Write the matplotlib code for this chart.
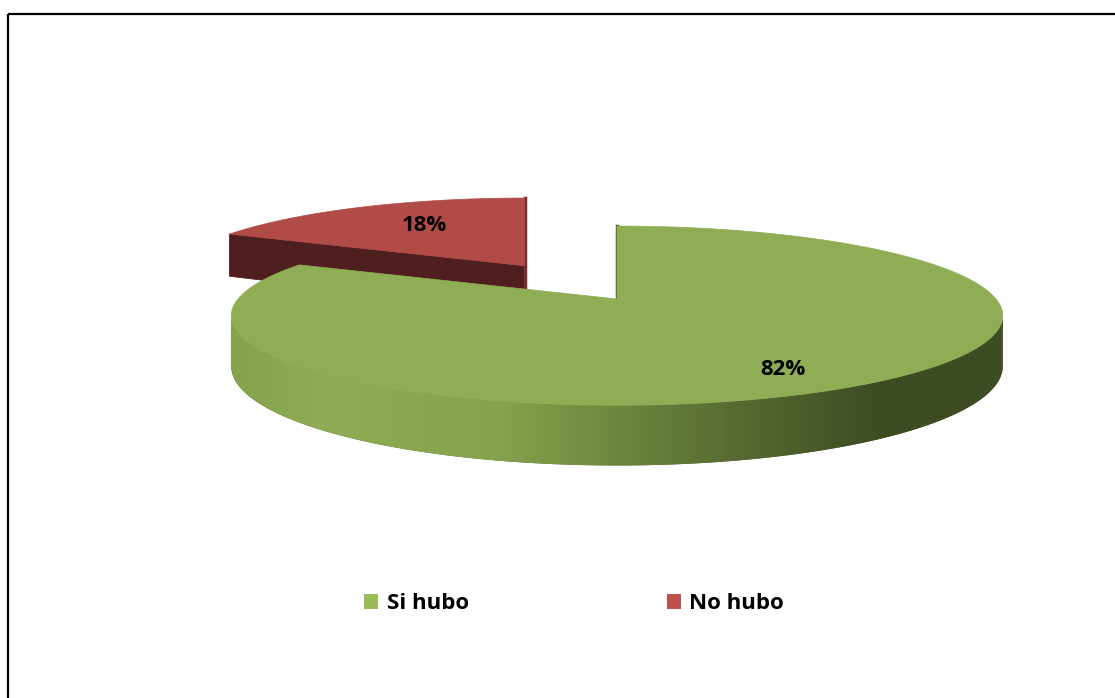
import numpy as np
import matplotlib.pyplot as plt
from matplotlib.patches import Polygon, Rectangle, Patch
from matplotlib.colors import LinearSegmentedColormap

labels = ["Si hubo", "No hubo"]
values = [82, 18]
pct_labels = ["82%", "18%"]
top_colors = ["#8EAD54", "#B14B48"]
face_colors = ["#4C5E2B", "#4E1F1E"]
edge_face_colors = ["#55692F", "#7A2E2C"]
legend_colors = ["#9BBB59", "#C0504D"]
explode = [0.0, 0.49]

# shading of the curved outer wall, left to right
wall_cmap = LinearSegmentedColormap.from_list("wall", [
    (0.0, "#85A34E"), (0.13, "#8FAD54"), (0.35, "#85A24C"), (0.51, "#6C853E"),
    (0.67, "#556830"), (0.84, "#3E4C23"), (1.0, "#3E4C23")])

# pie geometry (pixels) and a simple perspective
CX, CY = 617, 299
RX, RY = 379, 86.5
K = 0.186
THICK = 49
LABEL_R = 0.7
LABEL_NUDGE = [(6, 13), (19, 2)]


def base_proj(u, v, z=0.0):
    w = 1.0 / (1.0 + K * v)
    return RX * u * w, -RY * v * w + THICK * z * w


def make_proj(ou, ov):
    # a moved-out slice keeps its own shape, shrunk by its depth
    px, py = base_proj(ou, ov)
    s = 1.0 / (1.0 + K * ov)

    def proj(u, v, z=0.0):
        lx, ly = base_proj(u, v, z)
        return CX + px + s * lx, CY + py + s * ly
    return proj


def area(pts):
    x, y = np.asarray(pts).T
    return 0.5 * np.sum(x * np.roll(y, -1) - np.roll(x, -1) * y)


def draw_slice(ax, start, end, expl, top_c, face_c, edge_c, zo, shaded):
    mid = np.radians((start + end) / 2)
    proj = make_proj(expl * np.cos(mid), expl * np.sin(mid))
    th = np.radians(np.linspace(start, end, 300))
    u, v = np.cos(th), np.sin(th)
    tx, ty = proj(u, v)
    bx, by = proj(u, v, 1.0)
    c_top = proj(0.0, 0.0)
    c_bot = proj(0.0, 0.0, 1.0)

    # radial faces
    for ang, sgn, col in ((start, -1, face_c), (end, 1, edge_c)):
        a = np.radians(ang)
        ru, rv = np.cos(a), np.sin(a)
        quad = [c_top, proj(ru, rv), proj(ru, rv, 1.0), c_bot]
        if sgn * area(quad) > 1e-6:
            ax.add_patch(Polygon(quad, closed=True, fc=col, ec=col, lw=0.6, zorder=zo))
        elif abs(area(quad)) <= 1e-6:
            # edge-on face, just a thin dark line
            ax.plot([c_top[0], c_top[0]], [proj(ru, rv)[1], c_bot[1]],
                    color=col, lw=2.5, zorder=zo)

    # outer wall, only the quads that face the viewer
    vis = []
    for j in range(len(th) - 1):
        quad = [(tx[j + 1], ty[j + 1]), (tx[j], ty[j]), (bx[j], by[j]), (bx[j + 1], by[j + 1])]
        vis.append(area(quad) > 0)
    vis = np.array(vis)
    runs, j = [], 0
    while j < len(vis):
        if vis[j]:
            k = j
            while k < len(vis) and vis[k]:
                k += 1
            runs.append((j, k))
            j = k
        else:
            j += 1
    for a0, a1 in runs:
        sl = slice(a0, a1 + 1)
        pts = np.vstack([np.column_stack([tx[sl], ty[sl]]),
                         np.column_stack([bx[sl], by[sl]])[::-1]])
        patch = Polygon(pts, closed=True, fc=face_c, ec="none", zorder=zo)
        ax.add_patch(patch)
        if shaded:
            x0, x1 = CX - RX * 1.02, CX + RX * 1.02
            grad = np.linspace(0, 1, 512)[None, :]
            im = ax.imshow(grad, cmap=wall_cmap, extent=(x0, x1, pts[:, 1].max() + 2, pts[:, 1].min() - 2),
                           aspect="auto", interpolation="bilinear", zorder=zo + 0.1)
            im.set_clip_path(patch)

    # top face
    top = np.vstack([[c_top], np.column_stack([tx, ty])])
    ax.add_patch(Polygon(top, closed=True, fc=top_c, ec=top_c, lw=0.5, zorder=zo + 0.5))
    return proj(LABEL_R * np.cos(mid), LABEL_R * np.sin(mid))


def plot():
    fig = plt.figure(figsize=(11.15, 6.98), dpi=100)
    ax = fig.add_axes([0, 0, 1, 1])

    fracs = np.array(values, dtype=float) / sum(values)
    starts = 90 - 360 * np.concatenate([[0], np.cumsum(fracs)[:-1]])
    ends = starts - 360 * fracs

    # exploded slice sits behind, draw it first
    order = sorted(range(len(values)), key=lambda n: -explode[n])
    for z, n in enumerate(order):
        lx, ly = draw_slice(ax, starts[n], ends[n], explode[n], top_colors[n],
                            face_colors[n], edge_face_colors[n], 2 + z * 2, n == 0)
        dx, dy = LABEL_NUDGE[n]
        ax.text(lx + dx, ly + dy, pct_labels[n], ha="center", va="center", fontsize=16,
                fontweight="bold", family="Open Sans", color="black", zorder=10)

    # chart frame
    ax.add_patch(Rectangle((7.5, 13.5), 1200, 800, fill=False, ec="black", lw=1.6, zorder=12))

    ax.set_xlim(0, 1115)
    ax.set_ylim(698, 0)
    ax.axis("off")

    handles = [Patch(fc=c, ec="none") for c in legend_colors]
    fig.legend(handles, labels, loc="center", bbox_to_anchor=(0.5148, 0.1347), ncol=2,
               frameon=False, prop={"family": "Open Sans", "weight": "bold", "size": 16},
               handlelength=0.63, handleheight=0.63, handletextpad=0.4, columnspacing=8.9)

    fig.savefig("out.png", dpi=100)


if __name__ == "__main__":
    plot()
